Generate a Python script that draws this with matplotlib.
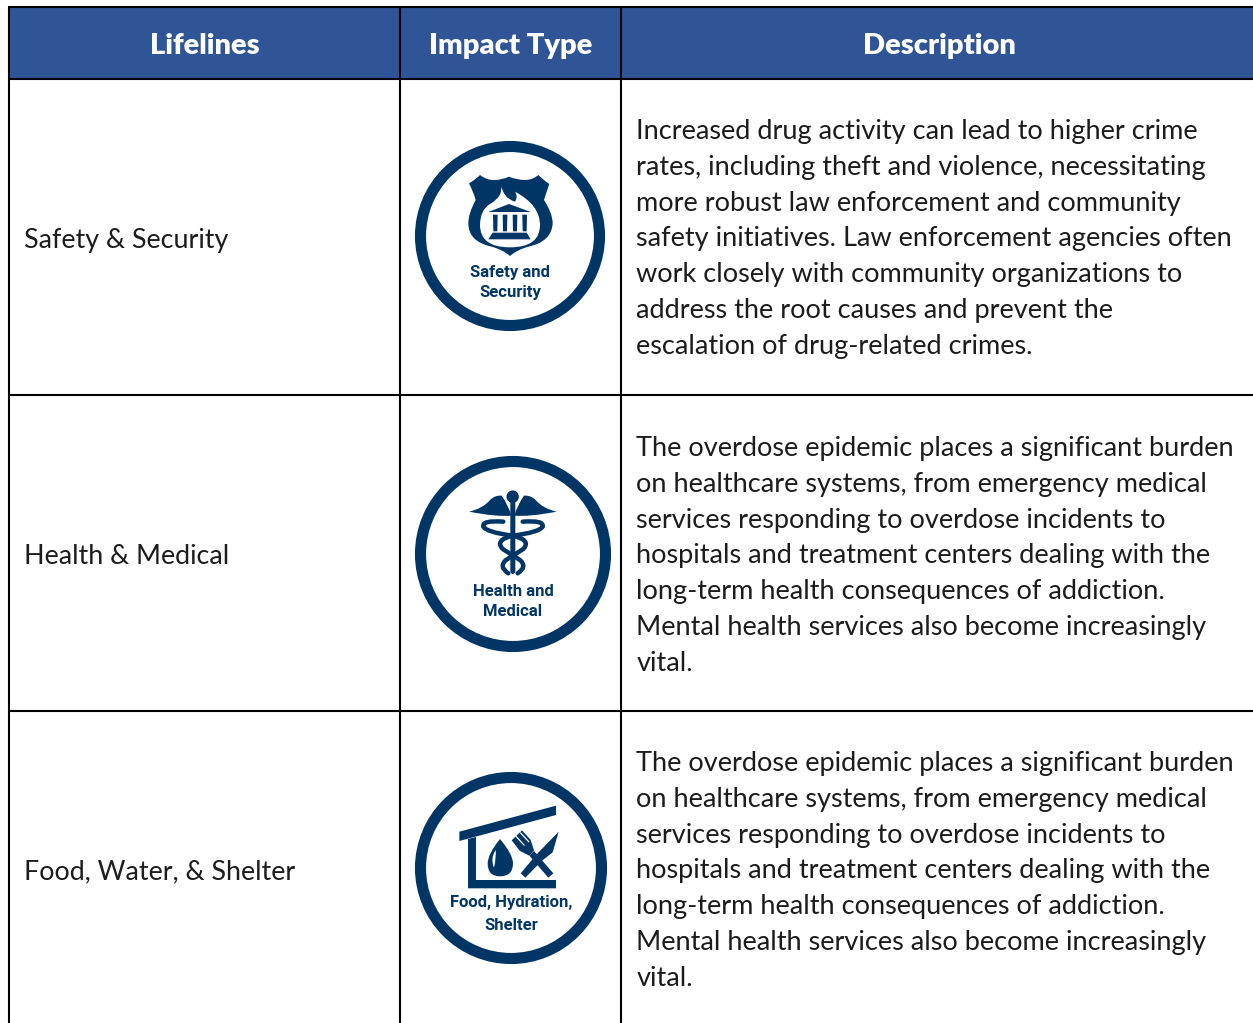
import matplotlib
matplotlib.use('Agg')
import numpy as np
import matplotlib.pyplot as plt
from matplotlib.patches import Circle, Polygon, Rectangle, PathPatch
from matplotlib.path import Path

plt.rcParams['font.family'] = ['Lato', 'DejaVu Sans']

headers = ['Lifelines', 'Impact Type', 'Description']
lifelines = ['Safety & Security', 'Health & Medical', 'Food, Water, & Shelter']
icon_labels = [['Safety and', 'Security'], ['Health and', 'Medical'], ['Food, Hydration,', 'Shelter']]
desc_1 = ['Increased drug activity can lead to higher crime',
          'rates, including theft and violence, necessitating',
          'more robust law enforcement and community',
          'safety initiatives. Law enforcement agencies often',
          'work closely with community organizations to',
          'address the root causes and prevent the',
          'escalation of drug-related crimes.']
desc_2 = ['The overdose epidemic places a significant burden',
          'on healthcare systems, from emergency medical',
          'services responding to overdose incidents to',
          'hospitals and treatment centers dealing with the',
          'long-term health consequences of addiction.',
          'Mental health services also become increasingly',
          'vital.']
descriptions = [desc_1, desc_2, desc_2]

NAVY = '#003665'
HEAD = '#2F5597'
INK = '#1c1c1c'
W, H = 1253, 1023
col_x = [9, 400, 621]
row_y = [7, 79, 395, 711]

fig = plt.figure(figsize=(W / 100, H / 100), dpi=100)
ax = fig.add_axes([0, 0, 1, 1])
ax.set_xlim(0, W)
ax.set_ylim(H, 0)
ax.axis('off')


def poly(pts, ox, oy, color=NAVY, z=3):
    # pts are in 3x zoom units, ox/oy is the crop corner
    xy = [(ox + x / 3, oy + y / 3) for x, y in pts]
    ax.add_patch(Polygon(xy, closed=True, fc=color, ec='none', zorder=z))


def curve(pts, ox, oy, color=NAVY, lw=3.2, z=4):
    xy = [(ox + x / 3, oy + y / 3) for x, y in pts]
    codes = [Path.MOVETO] + [Path.CURVE3] * (len(xy) - 1)
    ax.add_patch(PathPatch(Path(xy, codes), fc='none', ec=color, lw=lw, zorder=z, capstyle='round'))


def blob(pts, ox, oy, color=NAVY, z=3):
    xy = [(ox + x / 3, oy + y / 3) for x, y in pts]
    codes = [Path.MOVETO] + [Path.CURVE3] * (len(xy) - 1)
    ax.add_patch(PathPatch(Path(xy, codes), fc=color, ec='none', zorder=z))


def ring(cx, cy, r):
    ax.add_patch(Circle((cx, cy), r - 5.5, fc='white', ec=NAVY, lw=8, zorder=2))


def safety_icon():
    ox, oy = 400, 130
    ring(510, 236, 95)
    blob([(207, 160), (225, 150), (240, 135), (262, 152), (285, 150), (305, 150), (327, 140),
          (350, 150), (375, 150), (398, 150), (415, 135), (430, 150), (448, 162), (438, 190), (432, 210),
          (458, 250), (458, 280), (455, 335), (385, 350), (350, 360), (330, 378), (310, 360), (275, 350),
          (205, 335), (205, 280), (205, 250), (227, 210), (222, 190), (207, 160)], ox, oy)
    blob([(303, 165), (310, 205), (345, 215), (355, 200), (345, 185), (420, 225), (420, 285),
          (420, 352), (330, 352), (240, 352), (240, 285), (240, 240), (270, 222), (310, 200), (303, 165)],
         ox, oy, 'white', 4)
    poly([(265, 246), (327, 222), (392, 246)], ox, oy, NAVY, 5)
    poly([(265, 328), (278, 308), (380, 308), (392, 328)], ox, oy, NAVY, 5)
    for x in [286, 315, 345, 374]:
        poly([(x - 7, 254), (x + 7, 254), (x + 6, 304), (x - 6, 304)], ox, oy, NAVY, 5)


def health_icon():
    ox, oy = 400, 445
    ring(513, 554, 98)
    ax.add_patch(Circle((ox + 338 / 3, oy + 155 / 3), 6.2, fc=NAVY, ec='none', zorder=3))
    poly([(338, 170), (346, 170), (346, 382), (338, 388), (331, 382), (331, 170)], ox, oy)
    blob([(207, 200), (250, 190), (270, 165), (285, 150), (305, 152), (325, 180), (334, 212), (290, 216), (207, 200)], ox, oy)
    blob([(470, 200), (427, 190), (407, 165), (392, 150), (372, 152), (352, 180), (343, 212), (387, 216), (470, 200)], ox, oy)
    curve([(310, 230), (245, 225), (250, 245), (260, 262), (338, 272), (395, 285), (370, 312),
           (345, 328), (318, 345), (295, 365), (325, 385)], ox, oy)
    curve([(368, 230), (433, 225), (428, 245), (418, 262), (338, 272), (283, 285), (308, 312),
           (333, 328), (360, 345), (383, 365), (353, 385)], ox, oy)


def food_icon():
    ox, oy = 400, 765
    ring(511, 868, 96)
    poly([(178, 200), (468, 122), (468, 150), (178, 228)], ox, oy)
    poly([(204, 222), (228, 216), (228, 345), (468, 345), (468, 370), (204, 370)], ox, oy)
    blob([(300, 222), (263, 268), (263, 295), (263, 334), (300, 334), (339, 334), (339, 295), (339, 268), (300, 222)], ox, oy)
    blob([(287, 255), (270, 280), (282, 308), (289, 280), (287, 255)], ox, oy, 'white', 4)
    # fork handle and head
    poly([(445, 338), (460, 325), (402, 258), (388, 272)], ox, oy)
    poly([(335, 226), (366, 196), (392, 225), (402, 256), (388, 272), (360, 258)], ox, oy)
    for p in [[(348, 214), (372, 240)], [(362, 204), (386, 230)]]:
        xy = [(ox + x / 3, oy + y / 3) for x, y in p]
        ax.plot(*zip(*xy), color='white', lw=0.9, zorder=4)
    # knife over the fork
    poly([(362, 325), (376, 338), (425, 288), (458, 262), (476, 200), (410, 268)], ox, oy, NAVY, 5)


# header band and grid
ax.add_patch(Rectangle((col_x[0], row_y[0]), W - col_x[0], row_y[1] - row_y[0], fc=HEAD, ec='none', zorder=1))
for y in row_y:
    ax.plot([col_x[0] - 1, W], [y, y], color='black', lw=1.5, zorder=6, solid_capstyle='butt')
for x in col_x:
    ax.plot([x, x], [row_y[0], H], color='black', lw=1.5, zorder=6, solid_capstyle='butt')

head_x = [205, 511, 939]
for x, t in zip(head_x, headers):
    ax.text(x, 54, t, color='white', fontsize=21, fontweight='heavy', ha='center', va='baseline', zorder=7)

left_x = [24, 24, 24]
left_y = [248, 564, 879]
for x, y, t in zip(left_x, left_y, lifelines):
    ax.text(x, y, t, color=INK, fontsize=19.4, ha='left', va='baseline', zorder=7)

first_line = [139, 456, 771]
for y0, lines in zip(first_line, descriptions):
    for i, t in enumerate(lines):
        ax.text(636.5, y0 + i * 35.8, t, color=INK, fontsize=19.5, ha='left', va='baseline', zorder=7)

safety_icon()
health_icon()
food_icon()

label_x = [510, 513, 511]
label_y = [[272, 292], [591, 611], [902, 926]]
for x, ys, labs in zip(label_x, label_y, icon_labels):
    for y, t in zip(ys, labs):
        ax.text(x, y, t, color=NAVY, fontsize=12, fontweight='bold', ha='center', va='center',
                family=['Roboto', 'DejaVu Sans'], zorder=7)

fig.savefig('out.png', dpi=100)
